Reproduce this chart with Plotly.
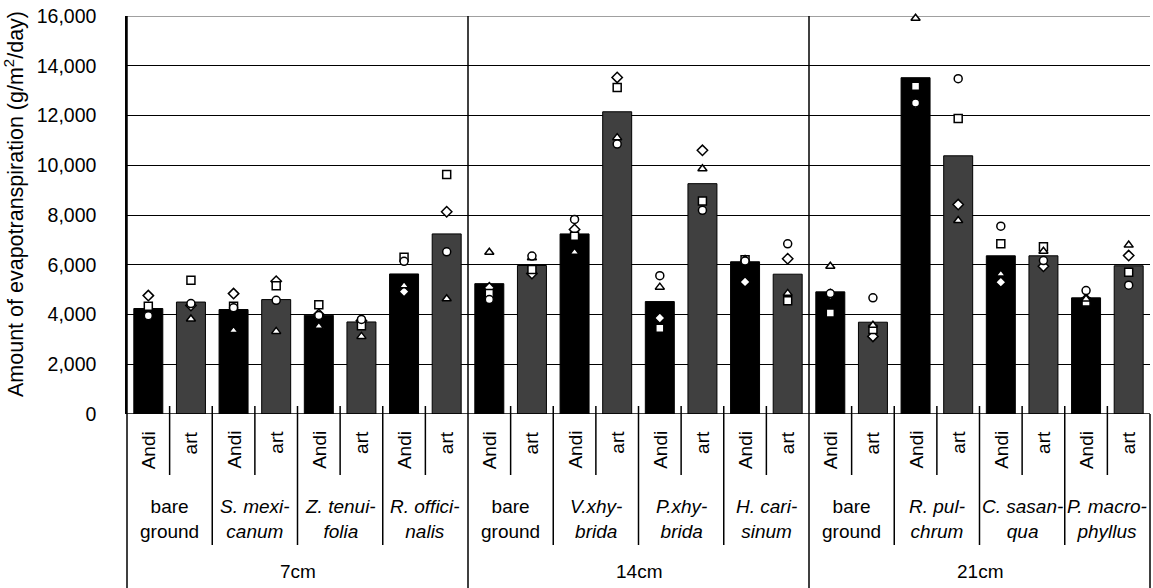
import plotly.graph_objects as go

# ---------------- data ----------------
depths = ["7cm", "14cm", "21cm"]
species = [
    "bare<br>ground", "<i>S. mexi-</i><br><i>canum</i>", "<i>Z. tenui-</i><br><i>folia</i>",
    "<i>R. offici-</i><br><i>nalis</i>",
    "bare<br>ground", "<i>V.xhy-</i><br><i>brida</i>", "<i>P.xhy-</i><br><i>brida</i>",
    "<i>H. cari-</i><br><i>sinum</i>",
    "bare<br>ground", "<i>R. pul-</i><br><i>chrum</i>", "<i>C. sasan-</i><br><i>qua</i>",
    "<i>P. macro-</i><br><i>phyllus</i>",
]
substrates = ["Andi", "art"] * 12

bar_values = [4240, 4500, 4200, 4600, 3970, 3700, 5630, 7240,
              5240, 5970, 7240, 12150, 4520, 9260, 6120, 5620,
              4910, 3690, 13520, 10380, 6360, 6360, 4670, 5960]

rep_diamond = [4760, 4360, 4840, 5340, 4000, 3750, 4920, 8130,
               5070, 5650, 7420, 13530, 3860, 10600, 5310, 6240,
               4800, 3120, 12480, 8420, 5300, 5940, 4600, 6370]
rep_square = [4330, 5380, 4330, 5160, 4390, 3550, 6300, 9630,
              4840, 5810, 7150, 13130, 3450, 8560, 6200, 4550,
              4060, 3400, 13180, 11880, 6840, 6720, 4500, 5700]
rep_triangle = [3930, 3820, 3360, 3320, 3530, 3120, 5160, 4630,
                6500, 6280, 6500, 11110, 5100, 9860, 6210, 4850,
                5940, 3570, 15910, 7780, 5630, 6540, 4620, 6790]
rep_circle = [3950, 4440, 4270, 4570, 3960, 3800, 6140, 6520,
              4600, 6350, 7820, 10850, 5560, 8190, 6150, 6840,
              4840, 4670, 12500, 13480, 7550, 6170, 4960, 5180]

y_ticks = list(range(0, 16001, 2000))

# ---------------- layout constants ----------------
W, H = 1153, 588
L, R, T, B = 127, 3, 16, 174
PLOT_H = H - T - B
FONT = "Liberation Sans, Arial, sans-serif"


def py(p):
    """pixel row -> paper y"""
    return (H - B - p) / PLOT_H


n = len(bar_values)
x = list(range(n))

fig = go.Figure()
fig.add_bar(
    x=x, y=bar_values, width=0.68,
    marker=dict(color=["#000000" if s == "Andi" else "#404040" for s in substrates],
                line=dict(color="black", width=1)),
    showlegend=False, hoverinfo="y",
)
for sym, vals in [("diamond", rep_diamond), ("square", rep_square),
                  ("triangle-up", rep_triangle), ("circle", rep_circle)]:
    fig.add_scatter(
        x=x, y=vals, mode="markers", showlegend=False, cliponaxis=False,
        marker=dict(symbol=sym, size=8, color="white",
                    line=dict(color="black", width=1.5)),
    )

shapes = []
# top gridline in gray, baseline black
shapes.append(dict(type="line", xref="paper", yref="y", x0=0, x1=1, y0=16000, y1=16000,
                   line=dict(color="#808080", width=1.5), layer="below"))
shapes.append(dict(type="line", xref="paper", yref="y", x0=0, x1=1, y0=0, y1=0,
                   line=dict(color="black", width=1.5), layer="above"))
# category separators
for b in range(1, n):
    xp = b / n
    if b % 8 == 0:
        y0, y1 = py(T), py(H)
    elif b % 2 == 0:
        y0, y1 = py(406), py(545)
    else:
        y0, y1 = py(406), py(475)
    shapes.append(dict(type="line", xref="paper", yref="paper", x0=xp, x1=xp, y0=y0, y1=y1,
                       line=dict(color="black", width=1.5), layer="above"))
# outer edges of the category table
shapes.append(dict(type="line", xref="paper", yref="paper", x0=0, x1=0, y0=py(T), y1=py(H),
                   line=dict(color="black", width=1.5)))
shapes.append(dict(type="line", xref="paper", yref="paper", x0=1, x1=1, y0=py(414), y1=py(H),
                   line=dict(color="black", width=1.5)))

annotations = []
for i, s in enumerate(substrates):
    annotations.append(dict(x=i, xref="x", y=py(429), yref="paper", text=s, textangle=-90,
                            xanchor="center", yanchor="top", showarrow=False,
                            font=dict(family=FONT, size=19, color="black")))
for k, sp in enumerate(species):
    annotations.append(dict(x=2 * k + 0.5, xref="x", y=py(519), yref="paper", text=sp,
                            xanchor="center", yanchor="middle", showarrow=False,
                            font=dict(family=FONT, size=19, color="black")))
for g, d in enumerate(depths):
    annotations.append(dict(x=8 * g + 3.5, xref="x", y=py(571), yref="paper", text=d,
                            xanchor="center", yanchor="middle", showarrow=False,
                            font=dict(family=FONT, size=19, color="black")))
annotations.append(dict(x=(14 - L) / (W - L - R), xref="paper", y=py(204), yref="paper",
                        text="Amount of evapotranspiration (g/m<sup>2</sup>/day)",
                        textangle=-90, xanchor="center", yanchor="middle", showarrow=False,
                        font=dict(family=FONT, size=21.5, color="black")))

fig.update_layout(
    width=W, height=H,
    margin=dict(l=L, r=R, t=T, b=B, pad=0),
    paper_bgcolor="white", plot_bgcolor="white",
    bargap=0.32,
    font=dict(family=FONT, size=19, color="black"),
    xaxis=dict(range=[-0.5, n - 0.5], showticklabels=False, showgrid=False,
               zeroline=False, showline=False, ticks=""),
    yaxis=dict(range=[0, 16000], tickvals=y_ticks, tickformat=",", showgrid=True,
               gridcolor="black", gridwidth=1, zeroline=False, showline=True,
               linecolor="black", linewidth=1.5, ticks="outside", ticklen=25,
               tickcolor="rgba(0,0,0,0)",
               tickfont=dict(family=FONT, size=19.5, color="black")),
    shapes=shapes, annotations=annotations,
)

fig.write_html("out.html", config={"displayModeBar": False},
               post_script="document.body.style.margin='0px';")
